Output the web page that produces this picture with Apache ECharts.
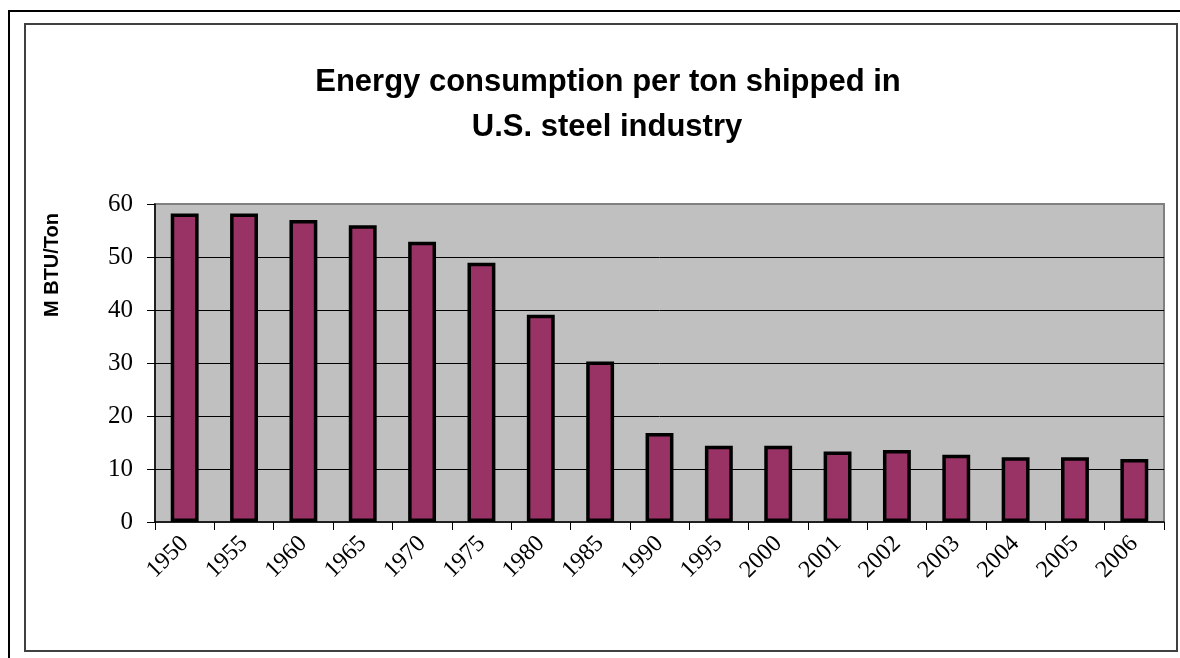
<!DOCTYPE html>
<html>
<head>
<meta charset="utf-8">
<script src="https://cdn.jsdelivr.net/npm/echarts@6/dist/echarts.min.js"></script>
<style>
html,body{margin:0;padding:0;background:#fff;}
#chart{width:1180px;height:658px;}
</style>
</head>
<body>
<div id="chart"></div>
<script>
const categories = ['1950','1955','1960','1965','1970','1975','1980','1985','1990','1995','2000','2001','2002','2003','2004','2005','2006'];
const values = [58.2, 58.2, 57.0, 56.0, 52.9, 48.9, 39.1, 30.3, 16.8, 14.4, 14.4, 13.3, 13.6, 12.7, 12.2, 12.2, 11.9];
const yTicks = [0, 10, 20, 30, 40, 50, 60];
const titleLines = ['Energy consumption per ton shipped in', 'U.S. steel industry'];
const yName = 'M BTU/Ton';

const chart = echarts.init(document.getElementById('chart'), null, {renderer: 'canvas'});
const option = {
  backgroundColor: '#fff',
  animation: false,
  grid: {
    left: 155, right: 16, top: 204, bottom: 136,
    show: true, backgroundColor: '#c0c0c0', borderColor: '#808080', borderWidth: 2,
    containLabel: false
  },
  xAxis: {
    type: 'category',
    data: categories,
    axisLine: {lineStyle: {color: '#000', width: 1.5}},
    axisTick: {show: true, length: 8, lineStyle: {color: '#000', width: 1}},
    axisLabel: {rotate: 45, margin: 18, color: '#000', fontFamily: 'Liberation Serif', fontSize: 24, interval: 0}
  },
  yAxis: {
    type: 'value',
    min: yTicks[0], max: yTicks[yTicks.length - 1], interval: 10,
    axisLine: {show: true, lineStyle: {color: '#000', width: 1.5}},
    axisTick: {show: true, length: 8, lineStyle: {color: '#000', width: 1}},
    axisLabel: {margin: 22, color: '#000', fontFamily: 'Liberation Serif', fontSize: 25},
    splitLine: {show: true, showMaxLine: false, showMinLine: false, lineStyle: {color: '#000', width: 1}}
  },
  series: [{
    type: 'bar',
    data: values,
    barWidth: '47%',
    itemStyle: {color: '#993366', borderColor: '#000', borderWidth: 3.5}
  }],
  graphic: [
    {type: 'rect', shape: {x: 9, y: 11, width: 1180, height: 660}, style: {fill: 'none', stroke: '#000', lineWidth: 2}, silent: true},
    {type: 'rect', shape: {x: 25, y: 24, width: 1152, height: 627}, style: {fill: 'none', stroke: '#404040', lineWidth: 2}, silent: true},
    {type: 'text', x: 608, y: 82, style: {text: titleLines[0], font: 'bold 31px "Liberation Sans", Arial, sans-serif', fill: '#000', textAlign: 'center', textVerticalAlign: 'middle'}},
    {type: 'text', x: 607, y: 127, style: {text: titleLines[1], font: 'bold 31px "Liberation Sans", Arial, sans-serif', fill: '#000', textAlign: 'center', textVerticalAlign: 'middle'}},
    {type: 'text', x: 52, y: 265, rotation: Math.PI / 2, style: {text: yName, font: 'bold 20px "Liberation Sans", Arial, sans-serif', fill: '#000', textAlign: 'center', textVerticalAlign: 'middle'}}
  ]
};
chart.setOption(option);
</script>
</body>
</html>
